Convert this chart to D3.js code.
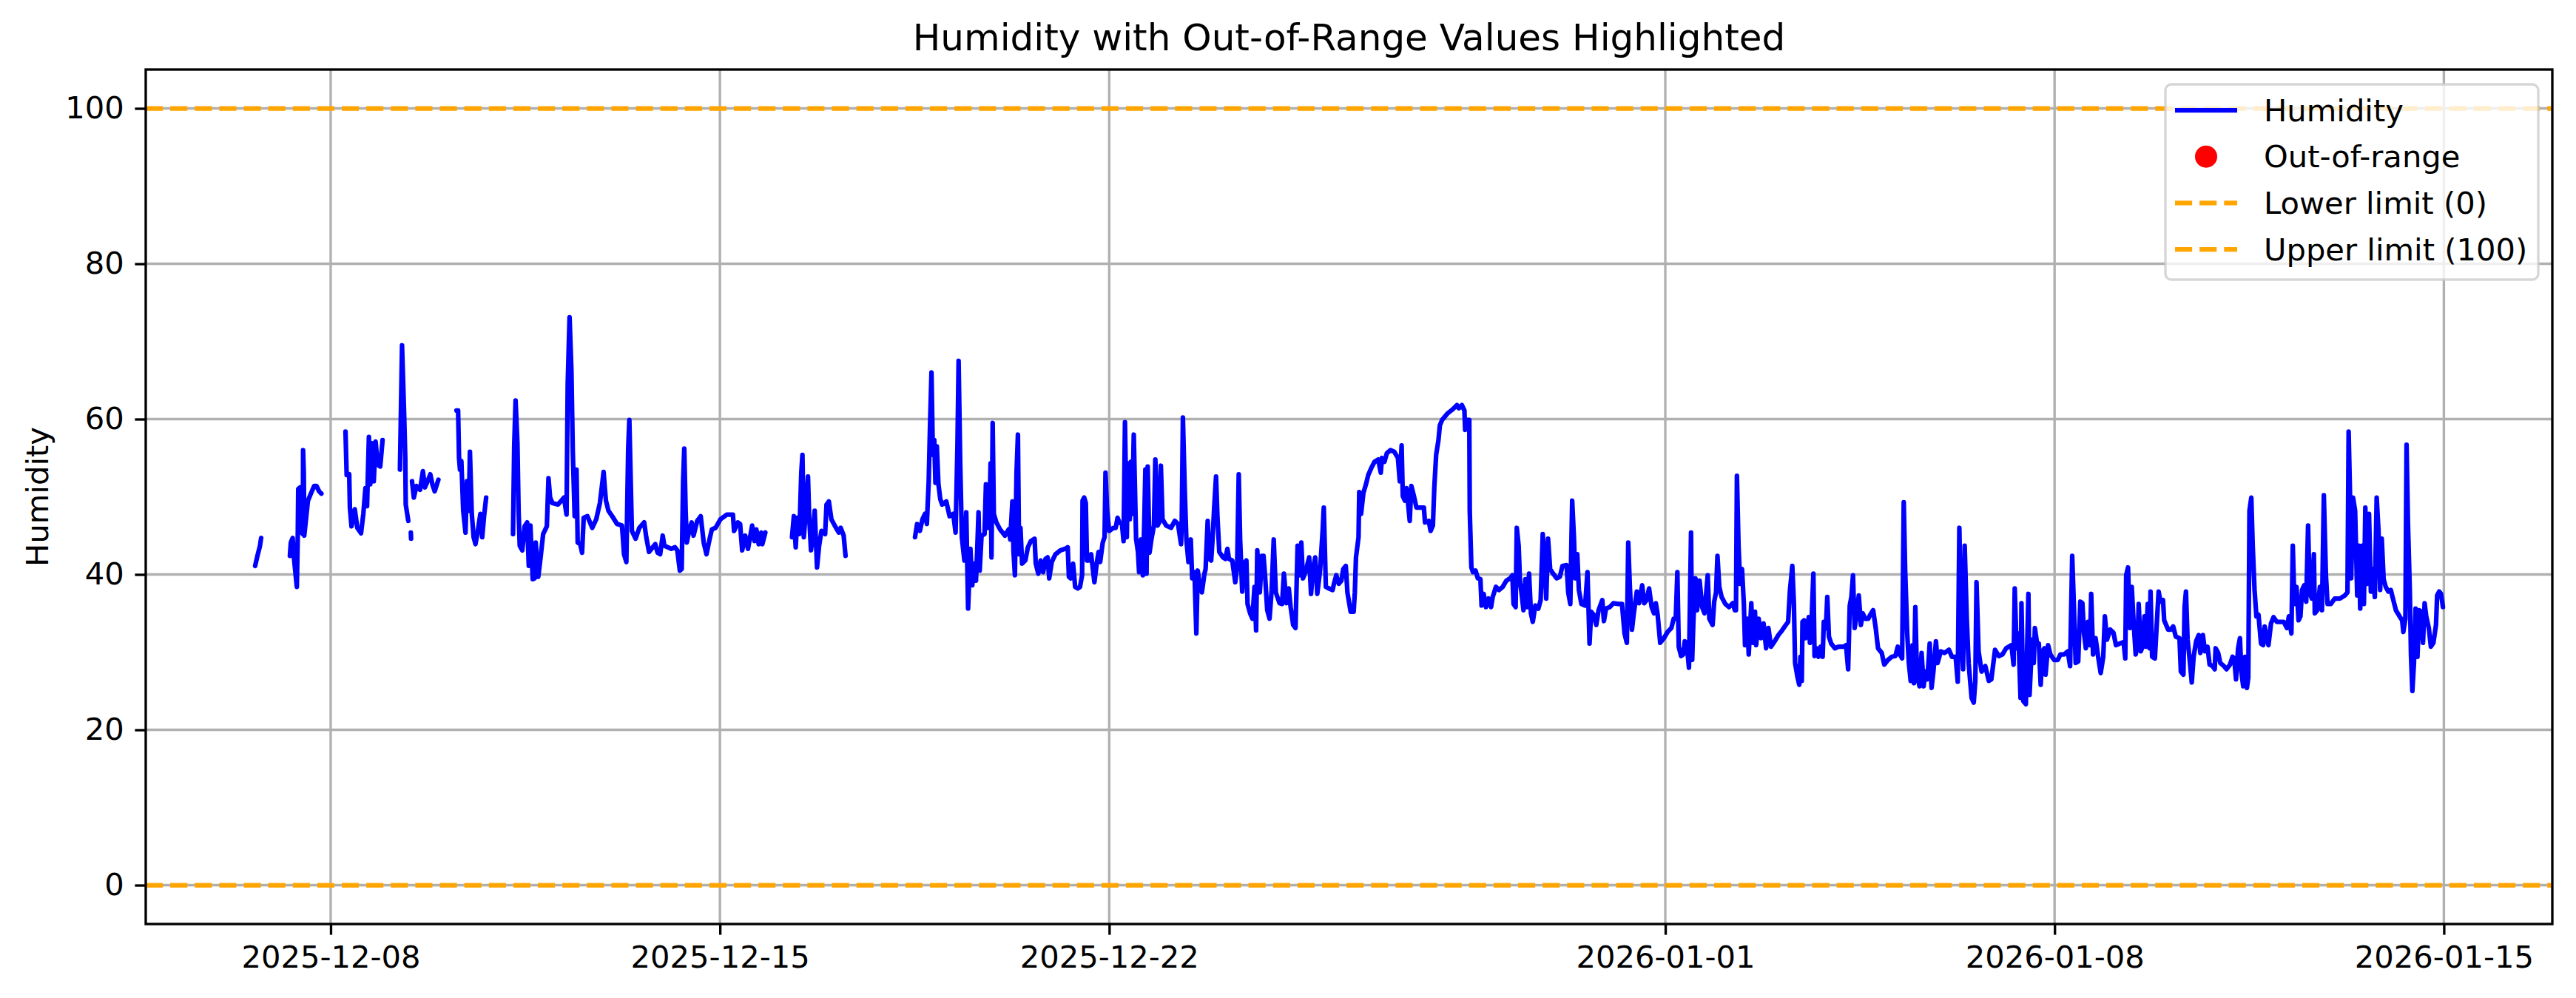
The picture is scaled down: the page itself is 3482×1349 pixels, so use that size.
<!DOCTYPE html>
<html><head><meta charset="utf-8">
<script src="https://cdn.jsdelivr.net/npm/d3@7"></script>
<style>
html,body{margin:0;padding:0;background:#fff;}
svg{display:block;font-family:"DejaVu Sans",sans-serif;}
</style></head><body>
<svg id="chart" width="3482" height="1349"></svg>
<script>
// Readings: [hours after 2025-12-06 00:00 UTC, humidity]; null marks a gap in the record
const startDate = Date.UTC(2025, 11, 6);
const readings = [
[15.4,41.1],[16.4,42.4],[17.5,43.7],[18.0,44.7],[24,null],
[30.4,42.4],[30.8,44.1],[31.6,44.7],[32.2,42.0],[33.4,38.4],[33.8,45.0],[34.0,51.0],[34.8,51.2],[35.3,45.5],[36.0,45.2],[36.1,56.0],[36.4,53.0],[36.6,45.0],[38.2,49.5],[39.3,50.3],[40.9,51.4],[41.9,51.4],[43.0,50.7],[44.0,50.4],[48,null],
[54.4,58.4],[54.9,52.8],[56.0,52.9],[56.3,48.6],[57.0,46.2],[58.4,48.4],[59.5,46.0],[61.1,45.3],[62.1,47.8],[63.0,51.1],[63.7,48.8],[64.5,57.7],[65.1,51.6],[65.8,56.9],[66.6,52.0],[67.4,57.1],[68.3,54.1],[69.4,53.9],[70.4,57.3],[74,null],
[77.9,53.5],[78.8,69.5],[79.7,60.7],[80.2,55.0],[80.4,49.0],[81.5,46.9],[82.0,null],
[82.6,45.4],[82.7,44.6],[82.9,null],
[83.1,52.0],[83.9,49.9],[85.0,51.4],[86.6,50.9],[87.8,53.3],[88.7,51.2],[89.8,52.0],[91.0,52.9],[91.9,51.6],[92.9,50.7],[94.5,52.2],[98,null],
[102.3,61.1],[103.0,61.1],[103.4,55.0],[103.8,53.5],[104.4,54.6],[105.2,48.2],[106.2,45.4],[106.8,52.0],[107.6,48.2],[108.1,55.8],[108.9,47.8],[109.7,44.8],[110.5,43.9],[111.5,45.6],[112.6,47.8],[113.4,44.8],[114.2,47.5],[115.1,49.9],[120,null],
[126.7,45.2],[127.2,56.5],[127.8,62.4],[128.6,56.9],[129.1,48.2],[129.6,43.7],[130.7,43.1],[131.7,46.2],[132.8,46.7],[133.5,41.1],[134.2,46.3],[135.2,39.4],[136.0,39.5],[136.5,44.1],[137.6,39.7],[138.6,42.2],[139.7,45.2],[141.3,46.2],[142.0,52.4],[142.7,49.9],[143.7,49.2],[146.1,49.0],[148.7,49.9],[149.8,47.7],[150.3,64.5],[151.1,73.1],[151.9,66.3],[152.5,55.8],[153.3,47.5],[154.1,53.5],[154.6,44.1],[155.7,43.9],[156.5,42.8],[157.2,47.3],[158.8,47.5],[160.9,46.0],[162.6,47.1],[164.2,49.2],[165.8,53.2],[166.3,51.2],[166.8,49.5],[167.9,48.2],[169.5,47.5],[171.6,46.5],[173.7,46.3],[174.0,45.2],[174.6,42.6],[175.6,41.6],[176.4,56.2],[176.9,59.9],[177.5,52.0],[178.0,45.6],[179.6,44.6],[181.2,46.0],[183.3,46.7],[184.2,44.8],[185.4,42.9],[188.1,43.9],[189.1,42.8],[190.2,42.6],[191.3,45.0],[192.0,43.7],[195.0,43.3],[196.6,43.5],[197.6,43.1],[198.7,40.5],[199.5,40.7],[200.1,52.0],[200.6,56.2],[201.2,48.2],[201.7,44.1],[203.0,46.0],[203.8,46.7],[204.6,45.0],[206.2,46.9],[207.7,47.5],[209.0,44.1],[210.2,42.6],[211.5,44.5],[212.5,45.8],[214.1,46.0],[216.2,47.1],[218.9,47.7],[221.6,47.7],[222.1,45.6],[223.7,46.7],[224.7,46.5],[225.6,43.1],[226.9,45.0],[228.1,43.3],[229.9,46.3],[230.9,44.3],[231.7,45.8],[232.7,43.9],[233.8,45.4],[234.3,43.9],[235.6,45.4],[240,null],
[247.1,44.8],[247.9,47.5],[248.7,43.5],[249.4,47.3],[250.3,45.2],[251.1,53.1],[251.6,55.4],[252.2,44.8],[252.9,47.5],[254.0,52.6],[254.5,47.5],[255.3,43.1],[256.1,45.2],[256.9,48.2],[257.9,40.9],[258.8,43.7],[259.8,45.6],[261.4,45.2],[262.0,49.0],[263.0,49.4],[264.1,47.1],[265.7,46.2],[267.3,45.4],[268.1,46.0],[269.4,45.0],[270.2,42.4],[280,null],
[300.2,44.8],[301.1,46.5],[302.3,45.6],[303.4,47.1],[304.5,47.8],[305.3,46.5],[306.1,52.0],[306.6,58.4],[307.3,66.0],[307.9,55.4],[308.5,57.3],[309.0,51.8],[309.6,56.5],[310.3,51.6],[311.1,49.7],[311.9,49.0],[313.7,49.4],[315.1,47.5],[316.7,47.8],[317.7,45.4],[318.5,56.5],[319.0,67.5],[319.7,54.3],[320.4,44.8],
[321.5,41.8],[322.3,48.0],[323.1,35.6],[324.1,43.3],[324.9,38.6],[325.7,41.4],[326.5,39.2],[327.0,42.9],[327.6,48.0],[328.1,40.5],[328.9,45.0],[330.2,45.2],[330.8,51.6],[331.6,46.0],[332.3,47.5],[332.8,54.3],[333.2,42.2],[333.7,59.5],[334.2,47.8],[335.3,46.7],[336.9,45.8],[339.0,45.0],[340.6,45.8],[341.3,44.5],[342.2,49.4],[342.7,42.9],[343.3,39.9],[344.0,53.1],[344.6,58.0],[345.1,42.6],[345.7,46.0],[346.4,41.4],[347.8,41.8],[348.9,43.5],[350.2,44.3],[351.8,44.6],[352.3,41.4],[353.4,40.1],[354.4,41.8],[355.5,40.3],[356.5,42.0],[357.4,42.2],[358.1,39.5],[359.2,41.6],[360.8,42.6],[362.9,43.1],[365.0,43.3],[366.1,43.5],[366.6,39.7],[367.4,39.5],[368.4,41.4],[369.3,38.4],[370.4,38.2],[371.4,38.4],[372.3,39.9],[372.5,49.5],[373.2,49.9],[373.9,49.2],[374.4,41.8],[375.1,41.8],[376.2,42.6],[377.6,39.0],[378.6,41.4],[379.4,42.9],[380.1,41.6],[381.2,44.1],[382.0,44.8],[382.4,53.1],[383.1,48.2],[384.0,45.6],[385.8,46.0],[386.8,46.0],[387.6,47.3],[388.4,46.7],[389.5,46.5],[390.2,44.3],[390.8,59.6],[391.6,44.8],[392.1,54.3],[392.9,47.1],[393.4,54.5],[393.9,47.8],[394.6,58.0],[395.1,51.2],[395.6,44.6],[396.4,42.9],[396.9,40.3],[397.7,44.5],[398.5,39.9],[399.1,46.3],[399.6,53.5],[400.1,40.1],[400.6,53.9],[401.4,42.8],[402.2,44.5],[403.3,46.3],[403.9,54.8],[404.9,46.3],[405.6,46.7],[406.3,54.0],[407.0,47.1],[408.6,46.3],[410.7,46.0],[412.3,46.9],[413.7,46.5],[415.0,43.9],[415.3,46.7],[415.8,60.2],[416.6,50.9],[417.3,44.5],[418.2,41.6],[419.2,44.5],[419.8,39.5],[420.8,40.3],[421.6,32.4],[422.2,40.5],[423.0,38.8],[424.0,37.7],[425.1,40.1],[425.6,40.7],[426.5,46.9],[427.2,42.0],[428.0,41.8],[428.6,44.5],[429.3,48.6],[430.1,52.6],[430.7,47.5],[431.5,42.9],[433.1,42.2],[434.1,42.0],[435.0,43.3],[435.7,42.0],[437.1,41.8],[438.4,39.0],[439.2,40.9],[439.9,52.9],[440.5,44.5],[441.4,37.8],[442.1,41.4],[443.2,41.8],[443.7,36.2],[444.8,35.0],[445.8,34.3],[446.7,38.4],[447.4,32.8],[447.9,43.1],[449.0,37.7],[449.9,42.4],[450.6,42.4],[451.3,39.7],[452.2,35.4],[453.2,34.3],[454.1,38.0],[455.0,44.5],[455.9,37.7],[457.5,36.3],[458.6,36.2],[459.4,40.1],[460.5,36.3],[461.5,38.2],[462.3,35.8],[463.4,33.5],[464.4,33.1],[465.3,43.7],[466.0,39.9],[466.9,44.1],[467.6,39.5],[468.7,40.3],[470.3,42.2],[471.1,37.5],[471.9,40.5],[472.9,42.2],[473.8,37.5],[475.0,40.5],[476.1,45.6],[476.6,48.6],[477.5,38.4],[478.8,38.2],[480.4,38.0],
[481.0,38.8],[482.0,39.9],[483.1,38.8],[484.2,39.2],[485.0,40.7],[486.1,41.1],[486.8,37.7],[488.2,35.2],[489.5,35.2],[490.0,37.7],[490.5,42.2],[491.6,44.8],[491.9,50.6],[492.7,47.8],[493.7,50.5],[494.8,51.6],[495.8,52.8],[497.1,53.7],[498.5,54.5],[500.1,54.8],[501.2,53.1],[501.7,55.0],[502.8,54.5],[503.8,55.6],[505.4,56.0],[507.0,55.8],[508.6,55.0],[509.4,52.0],[510.2,56.6],[510.7,50.1],[511.6,49.5],[512.3,51.1],[512.8,49.7],[513.7,46.9],[514.4,51.4],[515.5,50.1],[516.6,48.6],[518.2,48.6],[519.8,48.6],[520.3,46.7],[521.9,46.9],[522.7,45.6],[523.7,46.3],[524.3,51.2],[525.1,55.4],[526.1,57.3],[526.7,59.2],[527.7,59.9],[529.9,60.7],[532.0,61.2],[534.1,61.8],[534.9,61.4],[536.2,61.8],[537.3,61.1],[537.6,58.6],[538.4,59.9],[539.4,59.9],[539.6,48.2],[540.3,40.9],[541.0,40.3],[542.1,40.5],[543.1,39.5],[544.2,39.4],[544.7,36.0],[545.6,37.5],[546.6,35.8],[547.7,36.9],[548.8,35.8],[549.5,37.1],[550.9,38.4],[552.2,38.0],[553.8,38.4],[555.4,39.2],[557.0,39.5],[558.0,39.9],[558.5,36.2],[559.4,35.8],[559.9,46.0],[560.7,43.7],[561.3,39.0],[561.9,37.7],[562.8,35.4],[563.6,39.4],[564.4,35.8],[565.2,40.1],[566.0,35.0],[566.8,33.9],[567.9,36.0],[569.2,35.6],[570.2,36.7],[571.1,45.2],[571.8,42.2],[572.6,36.9],[573.4,44.6],[574.3,40.7],[575.6,40.1],[577.1,39.5],[578.5,39.7],[579.6,41.1],[581.4,41.2],[582.1,37.7],[583.0,36.2],[583.8,49.5],[584.6,44.5],[585.1,39.5],[586.0,42.6],[586.7,38.0],[587.8,36.2],[589.4,36.0],[590.4,40.3],[591.3,31.1],[592.0,35.2],[593.1,34.8],[594.2,33.5],[595.2,35.4],[596.8,36.7],[597.5,34.0],[598.4,35.6],[600.0,35.8],[601.6,36.3],[603.7,36.2],[605.3,36.2],[606.4,32.4],[607.4,31.2],[608.0,44.1],[608.7,38.4],[609.6,32.9],[610.4,35.0],[611.7,37.8],[612.7,36.3],[614.0,38.6],[614.9,36.3],[615.9,36.7],[617.0,38.2],[618.1,35.8],[619.1,35.0],[619.9,36.3],[620.7,34.8],[621.8,31.2],[623.4,31.8],[625.0,32.6],[626.6,33.1],[627.6,34.3],[628.5,34.3],[629.2,40.3],[629.8,30.7],[630.8,29.5],[631.7,29.7],[632.4,31.4],[633.2,31.2],[634.2,28.0],[635.1,45.4],[635.6,29.0],[636.1,33.9],[637.0,39.5],[637.7,35.4],[638.8,39.2],[639.9,35.8],[640.9,35.0],[642.3,39.9],[643.0,34.3],
[644.4,33.5],[645.1,36.5],[645.9,37.7],[646.5,42.4],[647.3,38.4],[648.3,37.1],[649.9,36.2],[651.5,35.8],[653.1,36.3],[654.0,35.4],[654.5,35.4],[654.9,52.7],[655.6,43.7],[656.3,38.8],[657.1,40.7],[657.9,36.2],[658.4,30.9],[659.3,34.3],[660.0,29.7],[661.1,36.3],[661.8,31.2],[662.7,35.2],[663.2,30.9],[664.3,34.3],[665.3,31.8],[666.4,33.7],[667.5,30.5],[668.5,33.1],[669.6,30.7],[671.2,31.4],[672.8,32.2],[674.4,32.8],[676.0,33.5],[677.0,33.9],[677.8,38.0],[678.3,39.5],[678.8,41.1],[679.5,36.2],[680.0,28.6],[681.1,26.7],[681.8,25.8],[682.3,29.4],[682.9,26.3],[683.2,33.9],[683.9,34.1],[684.5,31.8],[685.0,32.2],[685.9,34.5],[686.4,31.2],[687.1,33.9],[687.9,40.1],[688.4,29.5],[689.3,30.5],[690.1,29.4],[691.0,30.7],[691.9,29.4],[692.4,33.9],[693.3,33.1],[693.9,37.1],[694.6,32.0],[695.6,31.1],[697.2,30.5],[698.8,30.7],[701.0,30.7],[702.0,30.9],[702.9,27.8],[703.6,36.0],[704.3,37.1],[705.0,39.9],[705.7,33.1],[706.5,34.6],[707.5,37.3],[708.4,33.5],[709.2,35.0],[710.3,34.3],[711.6,34.3],[712.4,34.8],[713.7,35.4],[714.8,33.1],[715.8,30.5],[717.4,29.9],[718.5,28.4],[720.1,29.0],[721.7,29.4],[723.3,29.5],[724.3,30.7],[725.2,29.7],[726.2,29.2],[726.9,49.3],[727.5,40.7],[728.4,32.4],[729.1,28.6],[729.9,26.3],[730.7,30.9],[731.3,26.0],[731.9,35.8],[732.6,27.1],[733.7,25.6],[734.6,29.9],[735.5,25.6],[736.2,27.5],[737.1,26.5],[738.1,31.1],[738.9,25.4],[739.7,27.5],[740.8,31.4],[741.5,28.6],[742.9,30.1],[744.5,29.9],[746.4,30.3],[747.7,29.4],[749.3,29.4],[750.2,26.2],[750.9,46.0],[751.7,32.4],[752.5,27.8],[753.2,43.7],[754.1,34.3],[754.9,28.6],[756.2,24.1],[757.1,23.5],[757.8,26.3],[758.3,39.0],[759.2,30.1],[760.5,27.5],[762.1,28.2],[763.6,26.3],[764.7,26.5],[766.3,30.3],[767.9,29.5],[769.5,29.7],[771.1,30.5],[773.4,30.9],[774.3,28.4],[774.8,38.2],[775.6,30.5],[776.4,32.4],[777.3,24.1],[777.7,36.3],[778.5,23.7],[779.6,23.3],[780.7,37.5],[781.2,24.5],[782.3,31.6],[783.0,28.6],[783.5,33.1],[784.4,31.2],[785.2,31.1],[786.0,25.8],[786.8,30.1],[787.6,30.5],[788.1,27.1],[789.2,30.9],[790.2,29.7],[791.8,29.0],[793.4,29.0],[794.5,29.7],[796.1,29.7],[797.7,30.1],[798.7,28.2],
[799.6,42.4],[800.3,36.2],[801.1,28.6],[802.2,28.8],[803.1,36.5],[804.0,36.3],[804.7,32.4],[805.5,30.5],[806.4,33.9],[807.3,30.9],[807.8,37.5],[808.6,29.7],[809.7,31.8],[810.8,29.4],[811.9,27.3],[813.0,29.4],[813.7,34.6],[814.6,31.6],[816.0,32.9],[817.4,32.5],[818.5,30.9],[820.1,31.1],[821.8,31.3],[822.5,29.2],[822.9,39.9],[823.7,40.9],[824.5,33.1],[825.3,38.4],[826.1,33.9],[827.0,29.7],[827.8,30.9],[828.3,36.2],[829.2,30.1],[830.0,30.7],[830.8,34.6],[831.4,30.7],[832.2,36.2],[833.0,30.5],[833.4,37.8],[834.1,29.4],[835.3,29.2],[836.0,33.1],[836.9,37.8],[837.7,36.5],[838.8,36.7],[839.3,34.1],[841.0,32.9],[842.1,32.9],[843.2,33.3],[844.3,32.0],[845.9,31.8],[846.5,27.5],[847.6,27.1],[848.1,35.8],[848.7,37.8],[849.4,31.6],[850.3,29.0],[851.2,26.1],[852.0,29.4],[853.1,31.4],[854.2,32.2],[854.9,29.9],[856.0,32.2],[856.9,30.1],[858.0,30.7],[858.9,28.4],[860.2,28.2],[861.1,27.8],[861.5,30.5],[862.6,29.9],[863.5,28.6],[865.1,28.2],[866.2,27.8],[867.7,28.4],[868.8,29.4],[869.5,29.2],[870.3,26.5],[871.2,30.5],[872.0,31.8],[872.6,27.5],[873.4,25.6],[874.2,29.4],[875.0,25.4],[875.6,26.7],[876.1,48.2],[876.9,49.9],[877.5,43.7],[878.3,38.0],[879.1,34.6],[880.0,34.8],[881.1,31.1],[882.0,30.9],[882.7,33.3],[883.5,31.8],[884.3,30.9],[885.4,33.7],[886.5,34.5],[887.9,33.9],[889.3,33.9],[890.9,33.9],[892.3,33.1],[893.1,34.6],[894.2,32.4],[894.8,43.7],[895.5,36.2],[896.4,38.4],[897.3,34.1],[898.1,34.6],[898.8,38.0],[899.7,38.6],[900.6,36.5],[901.4,46.3],[902.1,37.7],[903.0,36.9],[903.9,42.6],[904.3,35.0],[905.4,35.4],[906.5,38.4],[907.4,35.4],[908.2,50.2],[909.1,39.9],[909.8,36.2],[911.2,36.2],[912.9,36.9],[915.1,36.9],[917.3,37.3],[918.4,37.7],[918.9,58.4],[919.5,50.2],[920.0,39.5],[920.8,49.9],[921.7,48.2],[922.6,37.3],[923.3,43.7],[923.9,35.6],[924.8,43.7],[925.5,36.2],[926.1,48.6],[927.0,38.8],[927.7,47.8],[928.5,37.8],[929.4,40.7],[930.2,37.1],[931.0,49.9],[931.8,45.6],[932.5,38.0],[933.2,44.6],[934.0,39.4],[934.9,38.4],[936.0,37.8],[937.1,38.0],[938.2,36.7],[939.3,35.4],[940.9,34.6],[942.0,34.1],[942.5,32.6],[943.4,34.3],[943.9,56.7],[944.5,46.7],[945.3,38.0],[945.8,29.7],[946.4,25.0],[947.1,28.6],[947.8,35.6],[948.6,29.4],[949.4,35.4],[950.2,35.2],[951.0,31.2],[951.7,36.3],[952.4,34.6],[953.5,33.1],[954.4,30.7],[955.5,31.2],[956.6,33.5],[957.1,37.3],[958.0,37.8],[958.8,37.5],[959.6,35.8]
];
const yTicks = [0, 20, 40, 60, 80, 100];
const xTickDates = ["2025-12-08", "2025-12-15", "2025-12-22", "2026-01-01", "2026-01-08", "2026-01-15"];
const limitValues = [0, 100];
const limitLabels = ["Lower limit (0)", "Upper limit (100)"];
const legendLabels = ["Humidity", "Out-of-range", "Lower limit (0)", "Upper limit (100)"];
const titleText = "Humidity with Out-of-Range Values Highlighted";
const yLabel = "Humidity";

// ---- layout (matplotlib at 300 dpi) ----
const W = 3482, H = 1349;
const L = 197, R = 3450, T = 94, B = 1249;
const PT = 300 / 72;
const FS = 10 * PT;

const toDate = h => new Date(startDate + h * 3600e3);
const pts = readings.map(d => ({t: toDate(d[0]), v: d[1]}));
const valid = pts.filter(d => d.v != null);
const outOfRange = valid.filter(d => d.v < limitValues[0] || d.v > limitValues[1]);

const tMin = d3.min(valid, d => +d.t), tMax = d3.max(valid, d => +d.t);
const pad = (tMax - tMin) * 0.05;
const x = d3.scaleUtc().domain([new Date(tMin - pad), new Date(tMax + pad)]).range([L, R]);
const y = d3.scaleLinear().domain([-5, 105]).range([B, T]);

const svg = d3.select("#chart");
svg.append("rect").attr("width", W).attr("height", H).attr("fill", "#fff");

const xTicks = xTickDates.map(s => new Date(s + "T00:00:00Z"));

// grid
const grid = svg.append("g").attr("stroke", "#b0b0b0").attr("stroke-width", 0.8 * PT);
grid.selectAll("line.gx").data(xTicks).join("line")
  .attr("x1", d => x(d)).attr("x2", d => x(d)).attr("y1", T).attr("y2", B);
grid.selectAll("line.gy").data(yTicks).join("line")
  .attr("x1", L).attr("x2", R).attr("y1", d => y(d)).attr("y2", d => y(d));

// humidity line
const line = d3.line().defined(d => d.v != null).x(d => x(d.t)).y(d => y(d.v));
svg.append("path").datum(pts).attr("d", line)
  .attr("fill", "none").attr("stroke", "blue").attr("stroke-width", 1.5 * PT)
  .attr("stroke-linejoin", "round").attr("stroke-linecap", "round");

// out-of-range points
svg.append("g").selectAll("circle").data(outOfRange).join("circle")
  .attr("cx", d => x(d.t)).attr("cy", d => y(d.v)).attr("r", 15).attr("fill", "red");

// limit lines
const dash = `${3.7 * 1.5 * PT},${1.6 * 1.5 * PT}`;
svg.append("g").selectAll("line").data(limitValues).join("line")
  .attr("x1", L).attr("x2", R).attr("y1", d => y(d)).attr("y2", d => y(d))
  .attr("stroke", "orange").attr("stroke-width", 1.5 * PT).attr("stroke-dasharray", dash);

// axes
const tickLen = 3.5 * PT;
const yAxis = d3.axisLeft(y).tickValues(yTicks).tickSize(tickLen).tickPadding(3.5 * PT).tickFormat(d3.format("d"));
const gy = svg.append("g").attr("transform", `translate(${L},0)`).call(yAxis);
const xAxis = d3.axisBottom(x).tickValues(xTicks).tickSize(tickLen).tickPadding(3.5 * PT).tickFormat(d3.utcFormat("%Y-%m-%d"));
const gx = svg.append("g").attr("transform", `translate(0,${B})`).call(xAxis);
[gx, gy].forEach(g => {
  g.select(".domain").remove();
  g.selectAll(".tick line").attr("stroke", "#000").attr("stroke-width", 0.8 * PT);
  g.selectAll(".tick text").attr("fill", "#000").style("font-size", FS + "px")
    .style("font-family", "'DejaVu Sans', sans-serif");
});

// spines
svg.append("rect").attr("x", L).attr("y", T).attr("width", R - L).attr("height", B - T)
  .attr("fill", "none").attr("stroke", "#000").attr("stroke-width", 0.8 * PT);

// title & y label
svg.append("text").attr("x", (L + R) / 2).attr("y", 68).attr("text-anchor", "middle")
  .style("font-size", (12 * PT) + "px").attr("fill", "#000").text(titleText);
svg.append("text").attr("transform", `translate(65,${(T + B) / 2}) rotate(-90)`)
  .attr("text-anchor", "middle").style("font-size", FS + "px").attr("fill", "#000").text(yLabel);

// legend
const lg = svg.append("g");
const lgX = 2927, lgY = 114, lgW = 504, lgH = 264;
lg.append("rect").attr("x", lgX).attr("y", lgY).attr("width", lgW).attr("height", lgH)
  .attr("rx", 8).attr("fill", "#fff").attr("fill-opacity", 0.8)
  .attr("stroke", "#cccccc").attr("stroke-opacity", 0.8).attr("stroke-width", 0.8 * PT);
const rowY = i => 149 + i * 62.7;
const hx0 = 2940, hx1 = 3024;
legendLabels.forEach((lab, i) => {
  const cy = rowY(i);
  if (i === 0) {
    lg.append("line").attr("x1", hx0).attr("x2", hx1).attr("y1", cy).attr("y2", cy)
      .attr("stroke", "blue").attr("stroke-width", 1.5 * PT);
  } else if (i === 1) {
    lg.append("circle").attr("cx", (hx0 + hx1) / 2).attr("cy", cy).attr("r", 15).attr("fill", "red");
  } else {
    lg.append("line").attr("x1", hx0).attr("x2", hx1).attr("y1", cy).attr("y2", cy)
      .attr("stroke", "orange").attr("stroke-width", 1.5 * PT).attr("stroke-dasharray", dash);
  }
  lg.append("text").attr("x", 3060).attr("y", cy + 14.5).style("font-size", FS + "px")
    .attr("fill", "#000").text(lab);
});
</script>
</body></html>
